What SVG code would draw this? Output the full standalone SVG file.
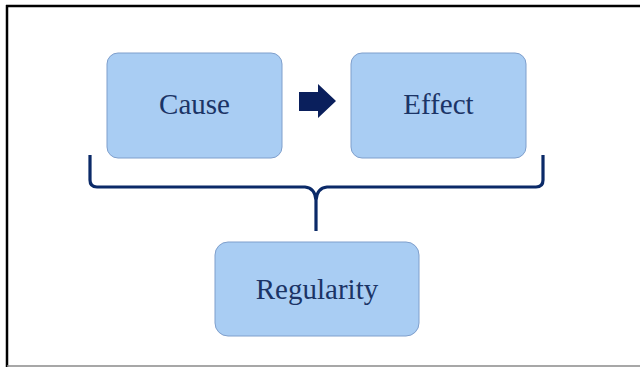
<svg xmlns="http://www.w3.org/2000/svg" width="640" height="367" viewBox="0 0 640 367">
  <style>
    .box { fill: #a9cdf3; stroke: #7f9fcc; stroke-width: 1; }
    .label { font-family: "Liberation Serif", "DejaVu Serif", serif; font-size: 29px; fill: #1b3466; text-anchor: middle; }
    .brace { fill: none; stroke: #0b2a68; stroke-width: 3.2; stroke-linejoin: round; stroke-linecap: butt; }
  </style>
  <rect x="0" y="0" width="640" height="367" fill="#ffffff"/>
  <!-- frame -->
  <line x1="6" y1="6" x2="640" y2="6" stroke="#000" stroke-width="2.5"/>
  <line x1="7" y1="5" x2="7" y2="367" stroke="#000" stroke-width="2.5"/>
  <line x1="7" y1="366" x2="640" y2="366" stroke="#8a8a8a" stroke-width="1.5"/>

  <g id="cause">
    <rect class="box" x="107" y="53" width="175" height="105" rx="11"/>
    <text class="label" x="194.5" y="114">Cause</text>
  </g>
  <g id="effect">
    <rect class="box" x="351" y="53" width="175" height="105" rx="11"/>
    <text class="label" x="438.5" y="114">Effect</text>
  </g>
  <g id="regularity">
    <rect class="box" x="215" y="242" width="204" height="94" rx="13"/>
    <text class="label" x="317" y="299">Regularity</text>
  </g>

  <g id="connectors">
    <path d="M299,92 H318 V84 L336,101 L318,118 V111 H299 Z" fill="#0a1f5c"/>
    <path class="brace" d="M90,155 V180 Q90,187 97,187 H305 Q315,188 316,200 V231 M316,200 Q317,188 327,187 H536 Q543,187 543,180 V155"/>
  </g>
</svg>
